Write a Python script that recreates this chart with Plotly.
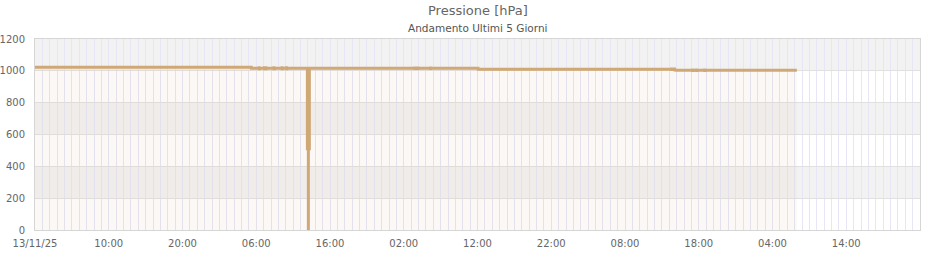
import plotly.graph_objects as go

# ---- data ----
times = [
    "2025-11-13 00:00", "2025-11-14 05:20", "2025-11-14 05:21",
    "2025-11-14 06:23", "2025-11-14 06:24", "2025-11-14 06:26", "2025-11-14 06:27",
    "2025-11-14 07:05", "2025-11-14 07:06", "2025-11-14 07:08", "2025-11-14 07:09",
    "2025-11-14 07:17", "2025-11-14 07:18", "2025-11-14 07:20", "2025-11-14 07:21",
    "2025-11-14 08:23", "2025-11-14 08:24", "2025-11-14 08:26", "2025-11-14 08:27",
    "2025-11-14 09:29", "2025-11-14 09:30", "2025-11-14 09:32", "2025-11-14 09:33",
    "2025-11-14 10:05", "2025-11-14 10:06", "2025-11-14 10:08", "2025-11-14 10:09",
    "2025-11-14 12:56", "2025-11-14 12:56", "2025-11-14 13:04", "2025-11-14 13:04",
    "2025-11-14 13:04", "2025-11-14 13:12", "2025-11-14 13:12",
    "2025-11-15 03:29", "2025-11-15 03:30", "2025-11-15 03:32", "2025-11-15 03:33",
    "2025-11-15 03:53", "2025-11-15 03:54", "2025-11-15 03:56", "2025-11-15 03:57",
    "2025-11-15 05:35", "2025-11-15 05:36", "2025-11-15 05:38", "2025-11-15 05:39",
    "2025-11-15 12:05", "2025-11-15 12:06",
    "2025-11-16 14:17", "2025-11-16 14:18", "2025-11-16 14:20", "2025-11-16 14:21",
    "2025-11-16 14:41", "2025-11-16 14:42", "2025-11-16 14:44", "2025-11-16 14:48",
    "2025-11-16 17:11", "2025-11-16 17:12", "2025-11-16 17:14", "2025-11-16 17:15",
    "2025-11-16 17:41", "2025-11-16 17:42", "2025-11-16 17:44", "2025-11-16 17:45",
    "2025-11-16 18:47", "2025-11-16 18:48", "2025-11-16 18:50", "2025-11-16 18:51",
    "2025-11-17 07:18",
]
pressure = [
    1022, 1022, 1016,
    1016, 1028, 1005, 1016,
    1016, 1028, 1005, 1016,
    1016, 1028, 1005, 1016,
    1016, 1028, 1005, 1016,
    1016, 1028, 1005, 1016,
    1016, 1028, 1005, 1016,
    1016, 510, 510, 0,
    510, 510, 1016,
    1016, 1026, 1006, 1016,
    1016, 1026, 1006, 1016,
    1016, 1026, 1006, 1016,
    1016, 1010,
    1010, 1020, 1000, 1010,
    1010, 1020, 998, 1004,
    1004, 1014, 994, 1004,
    1004, 1014, 994, 1004,
    1004, 1014, 994, 1004,
    1004,
]

x_tick_vals = [
    "2025-11-13 00:00", "2025-11-13 10:00", "2025-11-13 20:00", "2025-11-14 06:00",
    "2025-11-14 16:00", "2025-11-15 02:00", "2025-11-15 12:00", "2025-11-15 22:00",
    "2025-11-16 08:00", "2025-11-16 18:00", "2025-11-17 04:00", "2025-11-17 14:00",
]
x_tick_text = ["13/11/25", "10:00", "20:00", "06:00", "16:00", "02:00",
               "12:00", "22:00", "08:00", "18:00", "04:00", "14:00"]
y_tick_vals = [0, 200, 400, 600, 800, 1000, 1200]
band_ranges = [(200, 400), (600, 800), (1000, 1200)]
x_range = ["2025-11-13 00:00", "2025-11-18 00:00"]

title_text = "Pressione [hPa]"
subtitle_text = "Andamento Ultimi 5 Giorni"

# ---- figure ----
FONT = "DejaVu Sans, Verdana, sans-serif"
LINE = "#cfa876"

fig = go.Figure()
fig.add_trace(go.Scatter(
    x=times, y=pressure, mode="lines",
    line=dict(color=LINE, width=3),
    fill="tozeroy", fillcolor="rgba(215,185,165,0.10)",
    hoverinfo="x+y", showlegend=False,
))

shapes = []
for lo, hi in band_ranges:
    shapes.append(dict(type="rect", xref="paper", yref="y", x0=0, x1=1, y0=lo, y1=hi,
                       fillcolor="#f2f2f2", line=dict(width=0), layer="below"))

fig.update_layout(
    width=940, height=260,
    margin=dict(l=35, r=20, t=39, b=30, autoexpand=False),
    paper_bgcolor="white", plot_bgcolor="white",
    font=dict(family=FONT, size=10, color="#666666"),
    shapes=shapes,
    annotations=[
        dict(text=title_text, xref="paper", yref="paper", x=0.5, y=1,
             xanchor="center", yanchor="bottom", yshift=19, showarrow=False,
             font=dict(family=FONT, size=13, color="#666666")),
        dict(text=subtitle_text, xref="paper", yref="paper", x=0.5, y=1,
             xanchor="center", yanchor="bottom", yshift=3, showarrow=False,
             font=dict(family=FONT, size=10.5, color="#555555")),
    ],
    xaxis=dict(
        type="date", range=x_range, automargin=False,
        tickvals=x_tick_vals, ticktext=x_tick_text,
        ticklabelstandoff=4,
        showgrid=True, gridcolor="#e6e6f6", gridwidth=1,
        minor=dict(dtick=3600000, tick0=x_range[0], showgrid=True,
                   gridcolor="#e6e6f6", gridwidth=1, ticks=""),
        showline=True, linecolor="#d6d6d6", linewidth=1, mirror=True,
        ticks="", zeroline=False,
        tickfont=dict(family=FONT, size=10, color="#666666"),
    ),
    yaxis=dict(
        range=[0, 1200], tickvals=y_tick_vals, automargin=False,
        ticklabelstandoff=7,
        showgrid=True, gridcolor="#e0e0e0", gridwidth=1,
        showline=True, linecolor="#d6d6d6", linewidth=1, mirror=True,
        ticks="", zeroline=False,
        tickfont=dict(family=FONT, size=10, color="#666666"),
    ),
)

fig.write_html("out.html")
